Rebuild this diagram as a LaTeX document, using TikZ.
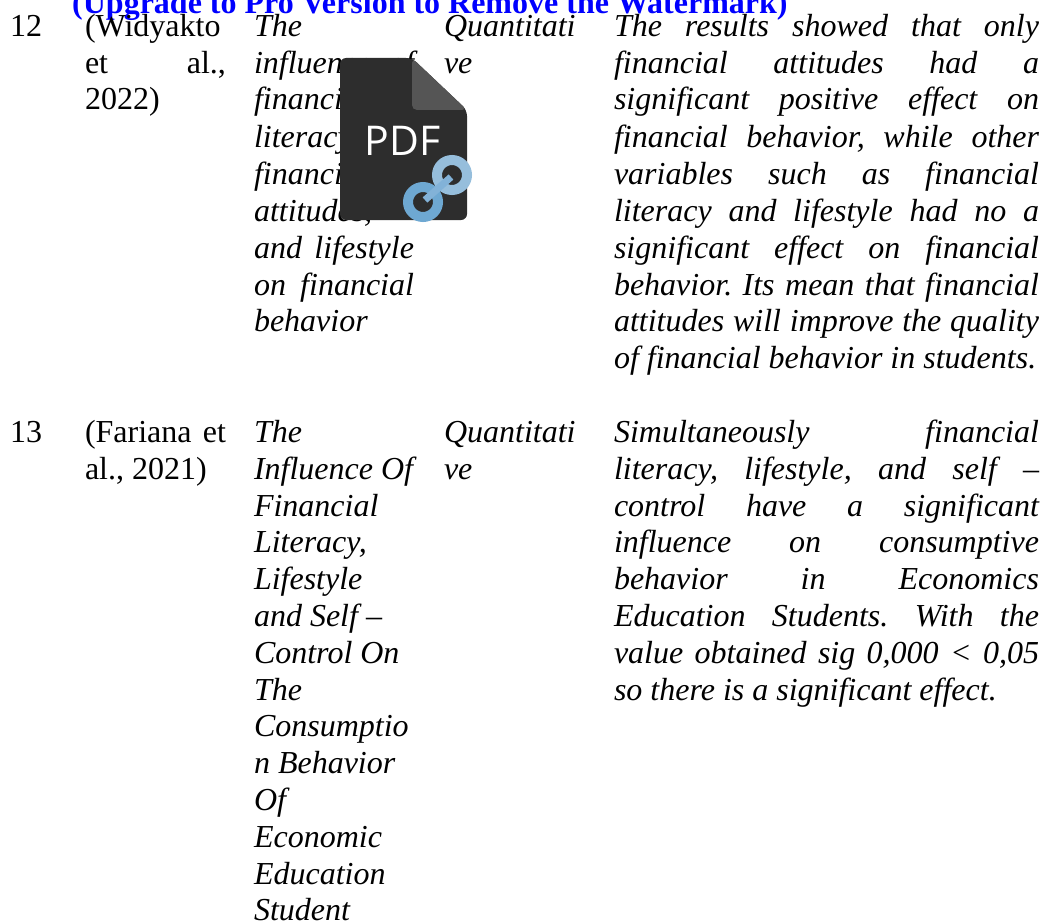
\documentclass[tikz,border=0pt]{standalone}
\usepackage{fontspec}
\setmainfont{Liberation Serif}
\newfontfamily\iconfont{Open Sans}
\newcounter{ln}
\tikzset{
  txt/.style={anchor=base west,inner sep=0pt,outer sep=0pt,text=black,font=\fontsize{32}{36}\selectfont},
  itxt/.style={txt,font=\fontsize{32}{36}\selectfont\itshape},
  mark text/.style={anchor=base west,inner sep=0pt,text=wmblue,font=\fontsize{32}{36}\selectfont\bfseries},
  body/.style={fill=iconbody,rounded corners=6pt},
  fold/.style={fill=iconfold,rounded corners=5pt},
  ringa/.style={draw=ringlight,line width=10pt},
  ringb/.style={draw=ringdark,line width=10pt},
  linkbar/.style={draw=ringmid,line width=7pt}
}
\definecolor{wmblue}{RGB}{0,0,255}
\definecolor{iconbody}{RGB}{45,45,45}
\definecolor{iconfold}{RGB}{85,85,85}
\definecolor{ringlight}{RGB}{150,190,220}
\definecolor{ringdark}{RGB}{110,168,210}
\definecolor{ringmid}{RGB}{130,178,216}
\newcommand{\Tx}[3]{\stepcounter{ln}\node[txt] (l\theln) at (#1,#2) {#3};}
\newcommand{\Ix}[3]{\stepcounter{ln}\node[itxt] (l\theln) at (#1,#2) {#3};}
\newcommand{\Tj}[4]{\stepcounter{ln}\node[txt] (l\theln) at (#1,#2) {\makebox[#3pt][s]{#4}};}
\newcommand{\Ij}[4]{\stepcounter{ln}\node[itxt] (l\theln) at (#1,#2) {\makebox[#3pt][s]{#4}};}
\begin{document}
\frenchspacing
\begin{tikzpicture}[x=1pt,y=-1pt]
\useasboundingbox (0,0) rectangle (1043,923);
\clip (0,0) rectangle (1043,923);
\node[mark text] (wm) at (72,14) {(Upgrade to Pro Version to Remove the Watermark)};
% row 12
\Tx{10}{37}{12}
\Tx{85}{37}{(Widyakto}
\Tj{85}{74}{141}{et al.,}
\Tx{85}{110}{2022)}
\Ix{254}{37}{The}
\Ij{254}{74}{160}{influence of}
\Ix{254}{110}{financial}
\Ix{254}{147}{literacy,}
\Ix{254}{184}{financial}
\Ix{254}{221}{attitudes,}
\Ij{254}{258}{160}{and lifestyle}
\Ij{254}{295}{160}{on financial}
\Ix{254}{331}{behavior}
\Ix{444}{37}{Quantitati}
\Ix{444}{74}{ve}
\Ij{614}{37}{425}{The results showed that only}
\Ij{614}{74}{425}{financial attitudes had a}
\Ij{614}{110}{425}{significant positive effect on}
\Ij{614}{147}{425}{financial behavior, while other}
\Ij{614}{184}{425}{variables such as financial}
\Ij{614}{221}{425}{literacy and lifestyle had no a}
\Ij{614}{258}{425}{significant effect on financial}
\Ij{614}{295}{425}{behavior. Its mean that financial}
\Ij{614}{331}{425}{attitudes will improve the quality}
\Ix{614}{368}{of financial behavior in students.}
% row 13
\Tx{10}{442}{13}
\Tj{85}{442}{141}{(Fariana et}
\Tx{85}{479}{al., 2021)}
\Ix{254}{442}{The}
\Ix{254}{479}{Influence Of}
\Ix{254}{516}{Financial}
\Ix{254}{552}{Literacy,}
\Ix{254}{589}{Lifestyle}
\Ix{254}{626}{and Self –}
\Ix{254}{663}{Control On}
\Ix{254}{700}{The}
\Ix{254}{736}{Consumptio}
\Ix{254}{773}{n Behavior}
\Ix{254}{810}{Of}
\Ix{254}{847}{Economic}
\Ix{254}{884}{Education}
\Ix{254}{920}{Student}
\Ix{444}{442}{Quantitati}
\Ix{444}{479}{ve}
\Ij{614}{442}{425}{Simultaneously financial}
\Ij{614}{479}{425}{literacy, lifestyle, and self –}
\Ij{614}{516}{425}{control have a significant}
\Ij{614}{552}{425}{influence on consumptive}
\Ij{614}{589}{425}{behavior in Economics}
\Ij{614}{626}{425}{Education Students. With the}
\Ij{614}{663}{425}{value obtained sig 0,000 < 0,05}
\Ix{614}{700}{so there is a significant effect.}
% PDF icon
\fill[body] (340,58) -- (412,58) -- (467,110) -- (467,220) -- (340,220) -- cycle;
\fill[fold] (412,58) -- (467,110) -- (412,110) -- cycle;
\node[anchor=base,inner sep=0pt,text=white,font=\fontsize{41}{41}\selectfont\iconfont] (pdf) at (402.5,155) {PDF};
\draw[ringa] (452,175) circle (15pt);
\draw[ringb] (423,202) circle (15pt);
\coordinate (barA) at (425,200);
\coordinate (barB) at (451,177);
\draw[linkbar] (barA) -- (barB);
\end{tikzpicture}
\end{document}
